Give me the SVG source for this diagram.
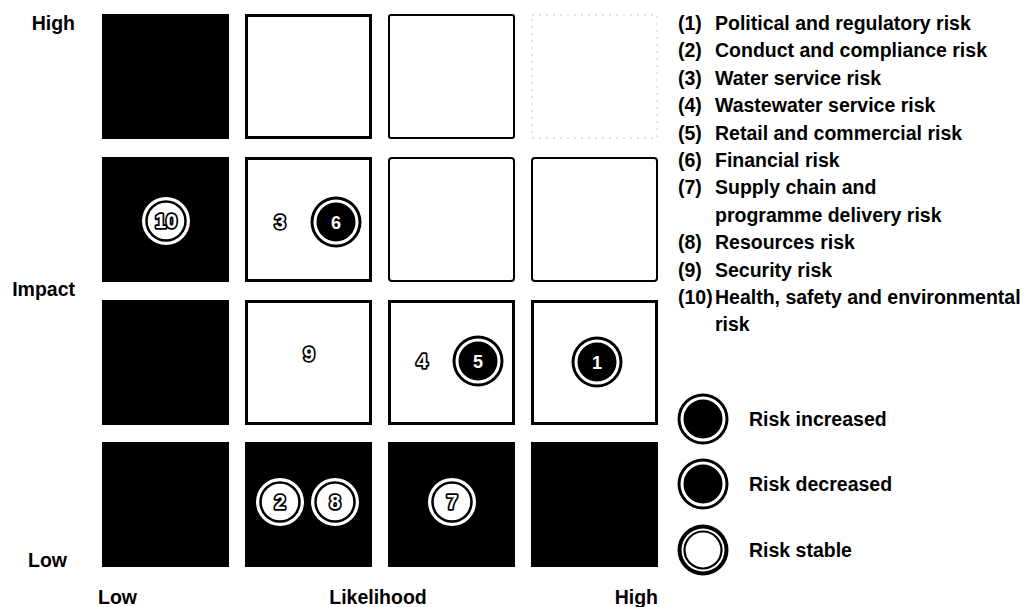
<svg xmlns="http://www.w3.org/2000/svg" width="1030" height="607" viewBox="0 0 1030 607">
  <style>
    text { font-family: "Liberation Sans", Arial, sans-serif; font-weight: bold; fill: #000; }
    .lbl { font-size: 19.5px; }
    .dark { fill: #000; }
    .box { fill: #fff; stroke: #000; stroke-width: 3; }
    .box-thin { fill: #fff; stroke: #000; stroke-width: 2; }
    .box-faint { fill: #fff; stroke: #c8c8c8; stroke-width: 1; stroke-dasharray: 2 5; }
    .num-w { font-size: 18px; fill: #fff; text-anchor: middle; }
    .num-o { font-size: 20px; fill: #fff; stroke: #000; stroke-width: 3.5; stroke-linejoin: round; paint-order: stroke; text-anchor: middle; }
  </style>
  <defs>
    <!-- risk increased / decreased marker: black disc with a white inner ring -->
    <g id="mk-up">
      <circle r="25.5" fill="#000"/>
      <circle r="21" fill="#000" stroke="#fff" stroke-width="3"/>
    </g>
    <!-- risk stable marker as drawn on a dark cell -->
    <g id="mk-stable-dark">
      <circle r="24" fill="#fff"/>
      <circle r="19.5" fill="#fff" stroke="#000" stroke-width="2.5"/>
    </g>
    <!-- risk stable marker for the legend (on white) -->
    <g id="mk-stable">
      <circle r="25.5" fill="#000"/>
      <circle r="21.5" fill="#fff"/>
      <circle r="18.5" fill="#fff" stroke="#000" stroke-width="2.2"/>
    </g>
  </defs>

  <!-- axis labels -->
  <g id="axis-labels" class="lbl">
    <text x="75" y="30" text-anchor="end">High</text>
    <text x="75" y="296" text-anchor="end">Impact</text>
    <text x="28" y="567">Low</text>
    <text x="98" y="604">Low</text>
    <text x="378" y="604" text-anchor="middle">Likelihood</text>
    <text x="658" y="604" text-anchor="end">High</text>
  </g>

  <!-- matrix cells: columns = likelihood, rows = impact (top = high) -->
  <g id="cells">
    <g id="cell-r1c1"><rect class="dark" x="102" y="14" width="127" height="125"/></g>
    <g id="cell-r1c2"><rect class="box" x="246.5" y="15.5" width="124" height="122"/></g>
    <g id="cell-r1c3"><rect class="box-thin" x="389" y="15" width="125" height="123" rx="2"/></g>
    <g id="cell-r1c4"><rect class="box-faint" x="532" y="15" width="125" height="123"/></g>

    <g id="cell-r2c1"><rect class="dark" x="102" y="157" width="127" height="125"/></g>
    <g id="cell-r2c2"><rect class="box" x="246.5" y="158.5" width="124" height="122"/></g>
    <g id="cell-r2c3"><rect class="box-thin" x="389" y="158" width="125" height="123" rx="3"/></g>
    <g id="cell-r2c4"><rect class="box-thin" x="532" y="158" width="125" height="123" rx="3"/></g>

    <g id="cell-r3c1"><rect class="dark" x="102" y="300" width="127" height="125"/></g>
    <g id="cell-r3c2"><rect class="box" x="246.5" y="301.5" width="124" height="122"/></g>
    <g id="cell-r3c3"><rect class="box" x="389.5" y="301.5" width="124" height="122"/></g>
    <g id="cell-r3c4"><rect class="box" x="532.5" y="301.5" width="124" height="122"/></g>

    <g id="cell-r4c1"><rect class="dark" x="102" y="442" width="127" height="125"/></g>
    <g id="cell-r4c2"><rect class="dark" x="245" y="442" width="127" height="125"/></g>
    <g id="cell-r4c3"><rect class="dark" x="388" y="442" width="127" height="125"/></g>
    <g id="cell-r4c4"><rect class="dark" x="531" y="442" width="127" height="125"/></g>
  </g>

  <!-- risk markers -->
  <g id="risks">
    <g id="risk-10"><use href="#mk-stable-dark" x="166" y="221"/><text class="num-o" x="166" y="228">10</text></g>
    <g id="risk-3"><text class="num-o" x="280" y="229">3</text></g>
    <g id="risk-6"><use href="#mk-up" x="336" y="222"/><text class="num-w" x="336" y="228.5">6</text></g>
    <g id="risk-9"><text class="num-o" x="309" y="361">9</text></g>
    <g id="risk-4"><text class="num-o" x="422" y="368">4</text></g>
    <g id="risk-5"><use href="#mk-up" x="478" y="361"/><text class="num-w" x="478" y="367.5">5</text></g>
    <g id="risk-1"><use href="#mk-up" x="597" y="362"/><text class="num-w" x="597" y="368.5">1</text></g>
    <g id="risk-2"><use href="#mk-stable-dark" x="280" y="502"/><text class="num-o" x="280" y="509">2</text></g>
    <g id="risk-8"><use href="#mk-stable-dark" x="335" y="502"/><text class="num-o" x="335" y="509">8</text></g>
    <g id="risk-7"><use href="#mk-stable-dark" x="452" y="502"/><text class="num-o" x="452" y="509">7</text></g>
  </g>

  <!-- numbered key -->
  <g id="key" class="lbl">
    <text x="678" y="30">(1)</text><text x="715" y="30">Political and regulatory risk</text>
    <text x="678" y="57.4">(2)</text><text x="715" y="57.4">Conduct and compliance risk</text>
    <text x="678" y="84.8">(3)</text><text x="715" y="84.8">Water service risk</text>
    <text x="678" y="112.2">(4)</text><text x="715" y="112.2">Wastewater service risk</text>
    <text x="678" y="139.6">(5)</text><text x="715" y="139.6">Retail and commercial risk</text>
    <text x="678" y="167">(6)</text><text x="715" y="167">Financial risk</text>
    <text x="678" y="194.4">(7)</text><text x="715" y="194.4">Supply chain and</text>
    <text x="715" y="221.8">programme delivery risk</text>
    <text x="678" y="249.2">(8)</text><text x="715" y="249.2">Resources risk</text>
    <text x="678" y="276.6">(9)</text><text x="715" y="276.6">Security risk</text>
    <text x="678" y="304">(10)</text><text x="715" y="304">Health, safety and environmental</text>
    <text x="715" y="331.4">risk</text>
  </g>

  <!-- marker legend -->
  <g id="legend">
    <g id="legend-increased"><use href="#mk-up" x="703" y="419"/><text class="lbl" x="749" y="426">Risk increased</text></g>
    <g id="legend-decreased"><use href="#mk-up" x="703" y="484"/><text class="lbl" x="749" y="491">Risk decreased</text></g>
    <g id="legend-stable"><use href="#mk-stable" x="703" y="550"/><text class="lbl" x="749" y="557">Risk stable</text></g>
  </g>
</svg>
